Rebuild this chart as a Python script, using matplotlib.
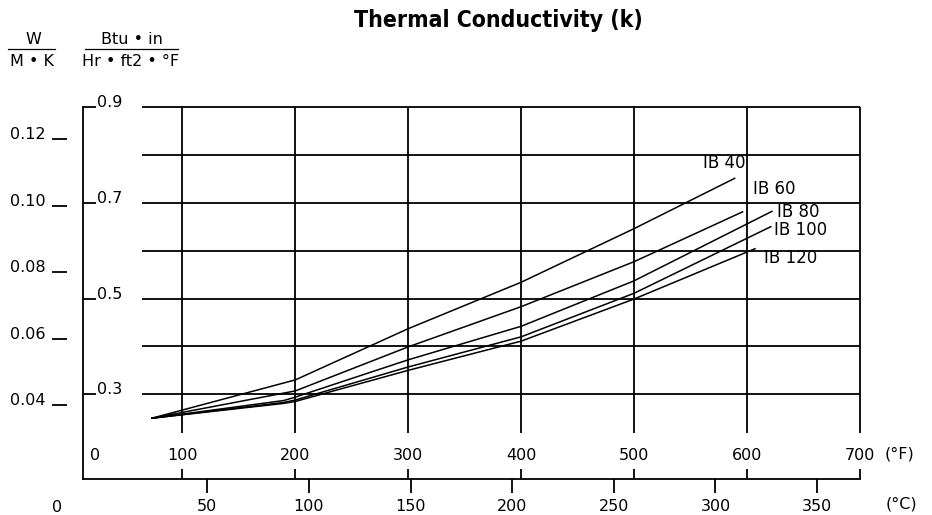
import matplotlib
matplotlib.use("Agg")
import matplotlib.pyplot as plt
from matplotlib.lines import Line2D

# readings: temperature in deg F, k in Btu.in/(hr.ft2.F)
ib40_t = [73, 200, 300, 400, 500, 589]
ib40_k = [0.250, 0.330, 0.437, 0.534, 0.646, 0.751]
ib60_t = [73, 200, 300, 400, 500, 596]
ib60_k = [0.250, 0.307, 0.399, 0.483, 0.577, 0.681]
ib80_t = [73, 190, 200, 300, 400, 500, 622]
ib80_k = [0.250, 0.287, 0.294, 0.372, 0.442, 0.537, 0.682]
ib100_t = [73, 190, 200, 300, 400, 500, 621]
ib100_k = [0.250, 0.283, 0.288, 0.357, 0.420, 0.511, 0.650]
ib120_t = [73, 190, 200, 300, 400, 500, 607]
ib120_k = [0.250, 0.281, 0.285, 0.350, 0.411, 0.499, 0.604]

grades = ["IB 40", "IB 60", "IB 80", "IB 100", "IB 120"]

f_ticks = [100, 200, 300, 400, 500, 600, 700]
c_ticks = [50, 100, 150, 200, 250, 300, 350]
btu_ticks = [0.3, 0.5, 0.7, 0.9]
btu_grid = [0.3, 0.4, 0.5, 0.6, 0.7, 0.8, 0.9]
w_ticks = [0.04, 0.06, 0.08, 0.10, 0.12]

W_PER_BTU = 0.1442  # 1 Btu.in/(hr.ft2.F) in W/(m.K)


def f_to_c(f):
    return (f - 32) / 1.8


def c_to_f(c):
    return c * 1.8 + 32


def btu_to_w(k):
    return k * W_PER_BTU


def w_to_btu(k):
    return k / W_PER_BTU


plt.rcParams['font.family'] = ['DejaVu Sans']
FS = 11.5


def fig_xy(px, py):
    # figure pixel (from top-left) -> figure fraction
    return px / 932, 1 - py / 515


fig = plt.figure(figsize=(9.32, 5.15), dpi=100)
ax = fig.add_axes([83 / 932, 1 - 479 / 515, 777 / 932, 372 / 515])
ax.set_xlim(12, 700)
ax.set_ylim(0.123, 0.9)

# grid, drawn by hand since it stops short of the frame
ax.hlines(btu_grid, 64, 700, color='black', lw=1.3, clip_on=False)
ax.vlines(f_ticks, 0.219, 0.9, color='black', lw=1.3, clip_on=False)

series = [(ib40_t, ib40_k), (ib60_t, ib60_k), (ib80_t, ib80_k),
          (ib100_t, ib100_k), (ib120_t, ib120_k)]
label_off = [(-32, 15), (10, 23), (5, -1), (3, -3), (9, -9)]
for name, (t, k), off in zip(grades, series, label_off):
    ax.plot(t, k, color='black', lw=1.1)
    ax.annotate(name, xy=(t[-1], k[-1]), xytext=off, textcoords='offset pixels',
                ha='left', va='center', fontsize=FS + 0.5)

for s in ['top', 'right']:
    ax.spines[s].set_visible(False)
ax.spines['left'].set_linewidth(1.3)
ax.spines['bottom'].set_linewidth(1.3)

# deg F labels sit inside the frame, above the bottom line
ax.set_xticks(f_ticks)
ax.tick_params(axis='x', direction='in', length=7, width=1.3, pad=-17, labelsize=FS)
plt.setp(ax.get_xticklabels(), va='center')

# Btu axis: ticks inward, labels to their right
ax.set_yticks(btu_ticks)
ax.set_yticklabels(['0.3', '0.5', '0.7', '0.9'])
ax.tick_params(axis='y', direction='in', length=9, width=1.3, pad=-10, labelsize=FS)
plt.setp(ax.get_yticklabels(), ha='left', va='baseline')

# W/(m.K) axis to the far left
wax = ax.secondary_yaxis(-0.0206, functions=(btu_to_w, w_to_btu))
wax.set_yticks(w_ticks)
wax.set_yticklabels(['0.04', '0.06', '0.08', '0.10', '0.12'])
wax.spines['left'].set_visible(False)
wax.tick_params(axis='y', direction='out', length=10.5, width=1.3, pad=5, labelsize=FS)
plt.setp(wax.get_yticklabels(), va='baseline')

# deg C axis below
cax = ax.secondary_xaxis('bottom', functions=(f_to_c, c_to_f))
cax.set_xticks(c_ticks)
cax.spines['bottom'].set_visible(False)
cax.tick_params(axis='x', direction='out', length=10, width=1.3, pad=10, labelsize=FS)
plt.setp(cax.get_xticklabels(), va='center')

fig.text(*fig_xy(95, 455), '0', ha='center', va='center', fontsize=FS)
fig.text(*fig_xy(57, 507), '0', ha='center', va='center', fontsize=FS)
fig.text(*fig_xy(900, 454), '(°F)', ha='center', va='center', fontsize=FS)
fig.text(*fig_xy(901, 504), '(°C)', ha='center', va='center', fontsize=FS)

# unit fractions
fig.text(*fig_xy(33, 39), 'W', ha='center', va='center', fontsize=FS)
fig.text(*fig_xy(32, 62), 'M • K', ha='center', va='center', fontsize=FS)
fig.text(*fig_xy(132, 39), 'Btu • in', ha='center', va='center', fontsize=FS)
fig.text(*fig_xy(131, 62), 'Hr • ft2 • °F', ha='center', va='center', fontsize=FS)
fig.add_artist(Line2D([8 / 932, 55 / 932], [1 - 49 / 515] * 2, color='black', lw=0.9))
fig.add_artist(Line2D([85 / 932, 178 / 932], [1 - 49 / 515] * 2, color='black', lw=0.9))

fig.text(*fig_xy(498, 20), 'Thermal Conductivity (k)', ha='center', va='center',
         fontsize=16.5, fontweight='heavy', fontstretch='condensed', family='DejaVu Sans')

fig.savefig('out.png', dpi=100)
